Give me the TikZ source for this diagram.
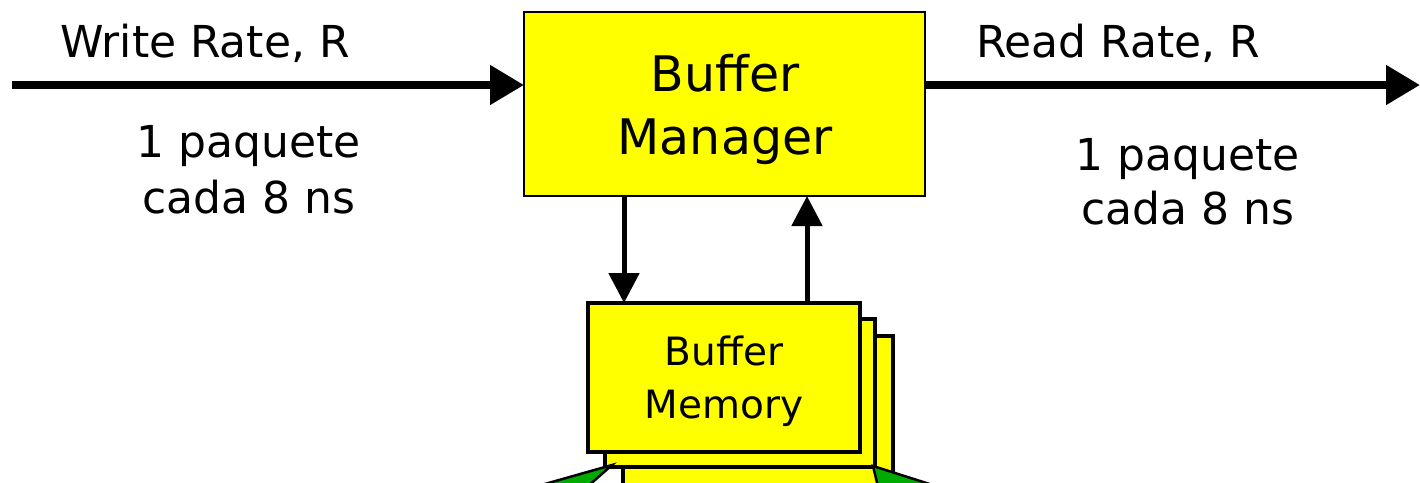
\documentclass[tikz,border=0pt]{standalone}
\usepackage{fontspec}
\setmainfont{DejaVu Sans}
\usetikzlibrary{arrows.meta}
\definecolor{boxyellow}{RGB}{255,255,0}
\definecolor{wedgegreen}{RGB}{0,170,0}
\tikzset{
  ybox/.style={draw=black, fill=boxyellow, line width=2.7pt, inner sep=0pt, outer sep=0pt},
  mbox/.style={ybox, line width=3.2pt},
  lbl/.style={anchor=base, inner sep=0pt, font=\fontsize{44}{54}\selectfont},
  bmlbl/.style={anchor=base, inner sep=0pt, font=\fontsize{49}{60}\selectfont},
  memlbl/.style={anchor=base, inner sep=0pt, font=\fontsize{39}{46}\selectfont},
  mainarrow/.style={line width=8pt, -{Triangle[length=34pt,width=38pt]}},
  thinarrow/.style={line width=5pt, -{Triangle[length=30pt,width=30pt]}},
  wedge/.style={draw=black, fill=wedgegreen, line width=2.5pt, line join=miter},
}
\begin{document}
\begin{tikzpicture}[x=1pt, y=-1pt]
\useasboundingbox (0,0) rectangle (1420,482);
% buffer memory stack
\node[mbox, minimum width=270pt, minimum height=150pt] (mem3) at (758,411) {};
\node[mbox, minimum width=270pt, minimum height=148pt] (mem2) at (740,393) {};
% green wedges
\draw[wedge] (612,465) -- (506,495) -- (578,495) -- cycle;
\draw[wedge] (873,466) -- (964,495) -- (880,495) -- cycle;
\node[mbox, minimum width=272pt, minimum height=149pt] (mem1) at (724,377.5) {};
\node[memlbl] (memt1) at (724,365) {Buffer};
\node[memlbl] (memt2) at (724,418) {Memory};
% buffer manager
\node[ybox, minimum width=401pt, minimum height=184pt] (bm) at (724.5,104) {};
\node[bmlbl] (bmt1) at (725,91) {Buffer};
\node[bmlbl] (bmt2) at (725,154) {Manager};
% labels
\node[lbl] (wr) at (205,57) {Write Rate, R};
\node[lbl] (wl1) at (249,157) {1 paquete};
\node[lbl] (wl2) at (249,213) {cada 8 ns};
\node[lbl] (rr) at (1118,57) {Read Rate, R};
\node[lbl] (rl1) at (1188,170) {1 paquete};
\node[lbl] (rl2) at (1188,224) {cada 8 ns};
% connectors
\coordinate (in) at (12,85);
\coordinate (out) at (1420,85);
\coordinate (dn) at (624,0);
\coordinate (up) at (807,0);
\draw[mainarrow] (in) -- (in -| bm.west);
\draw[mainarrow] (out -| bm.east) -- (out);
\draw[thinarrow] (bm.south -| dn) -- (mem1.north -| dn);
\draw[thinarrow] (mem1.north -| up) -- (bm.south -| up);
\end{tikzpicture}
\end{document}
